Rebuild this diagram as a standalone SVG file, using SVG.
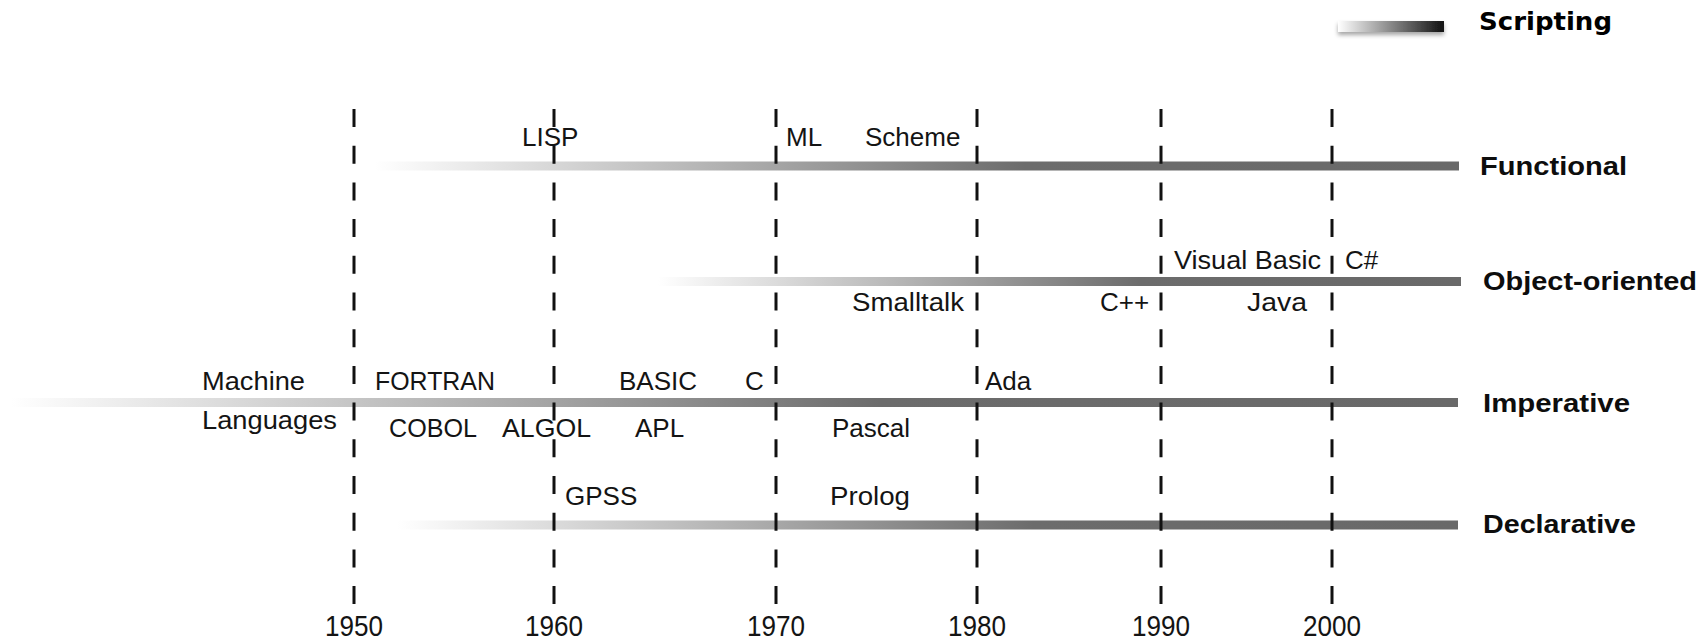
<svg xmlns="http://www.w3.org/2000/svg" width="1706" height="643" viewBox="0 0 1706 643">
  <defs>
    <linearGradient id="barGrad" x1="0" y1="0" x2="1" y2="0">
      <stop offset="0" stop-color="#ffffff"/>
      <stop offset="0.27" stop-color="#bdbdbd"/>
      <stop offset="0.6" stop-color="#6c6c6c"/>
      <stop offset="1" stop-color="#696969"/>
    </linearGradient>
    <linearGradient id="legendGrad" x1="0" y1="0" x2="1" y2="0">
      <stop offset="0" stop-color="#ffffff"/>
      <stop offset="1" stop-color="#111111"/>
    </linearGradient>
    <filter id="shadow" x="-10%" y="-50%" width="120%" height="250%">
      <feDropShadow dx="0" dy="3" stdDeviation="2" flood-color="#000" flood-opacity="0.35"/>
    </filter>
  </defs>
  <style>
    .bar { fill: url(#barGrad); }
    .lbl { font-family: "Liberation Sans", Arial, sans-serif; font-size: 26px; fill: #141414; }
    .cat { font-family: "Liberation Sans", Arial, sans-serif; font-size: 26px; font-weight: bold; fill: #0d0d0d; }
    .year { font-family: "Liberation Sans", Arial, sans-serif; font-size: 30px; fill: #141414; text-anchor: middle; }
    .grid { stroke: #111; stroke-width: 3; stroke-dasharray: 18 18.7; fill: none; }
    .legend { font-family: "DejaVu Sans", Verdana, sans-serif; font-size: 24px; font-weight: bold; fill: #000; }
  </style>
  <rect width="1706" height="643" fill="#ffffff"/>

  <g id="legend">
    <rect x="1338" y="21" width="106" height="11" fill="url(#legendGrad)" filter="url(#shadow)"/>
    <text class="legend" x="1479" y="30" textLength="133" lengthAdjust="spacingAndGlyphs">Scripting</text>
  </g>

  <g id="functional">
    <rect class="bar" x="375" y="161.5" width="1084" height="9"/>
    <text class="cat" x="1480" y="175" textLength="147" lengthAdjust="spacingAndGlyphs">Functional</text>
    <text class="lbl" x="522" y="146">LISP</text>
    <text class="lbl" x="786" y="146">ML</text>
    <text class="lbl" x="865" y="146">Scheme</text>
  </g>

  <g id="object-oriented">
    <rect class="bar" x="658" y="277" width="803" height="9"/>
    <text class="cat" x="1483" y="290" textLength="214" lengthAdjust="spacingAndGlyphs">Object-oriented</text>
    <text class="lbl" x="1174" y="269" textLength="147" lengthAdjust="spacingAndGlyphs">Visual Basic</text>
    <text class="lbl" x="1345" y="269">C#</text>
    <text class="lbl" x="852" y="311" textLength="112" lengthAdjust="spacingAndGlyphs">Smalltalk</text>
    <text class="lbl" x="1100" y="311">C++</text>
    <text class="lbl" x="1247" y="311" textLength="60" lengthAdjust="spacingAndGlyphs">Java</text>
  </g>

  <g id="imperative">
    <rect class="bar" x="11" y="398" width="1447" height="9"/>
    <text class="cat" x="1483" y="412" textLength="147" lengthAdjust="spacingAndGlyphs">Imperative</text>
    <text class="lbl" x="202" y="390" textLength="103" lengthAdjust="spacingAndGlyphs">Machine</text>
    <text class="lbl" x="375" y="390" textLength="120" lengthAdjust="spacingAndGlyphs">FORTRAN</text>
    <text class="lbl" x="619" y="390">BASIC</text>
    <text class="lbl" x="745" y="390">C</text>
    <text class="lbl" x="985" y="390">Ada</text>
    <text class="lbl" x="202" y="429" textLength="135" lengthAdjust="spacingAndGlyphs">Languages</text>
    <text class="lbl" x="389" y="437" textLength="88" lengthAdjust="spacingAndGlyphs">COBOL</text>
    <text class="lbl" x="502" y="437" textLength="89" lengthAdjust="spacingAndGlyphs">ALGOL</text>
    <text class="lbl" x="635" y="437">APL</text>
    <text class="lbl" x="832" y="437">Pascal</text>
  </g>

  <g id="declarative">
    <rect class="bar" x="397" y="520.5" width="1061" height="9"/>
    <text class="cat" x="1483" y="533" textLength="153" lengthAdjust="spacingAndGlyphs">Declarative</text>
    <text class="lbl" x="565" y="505">GPSS</text>
    <text class="lbl" x="830" y="505" textLength="80" lengthAdjust="spacingAndGlyphs">Prolog</text>
  </g>

  <g id="connectors">
    <line class="grid" x1="354" y1="109" x2="354" y2="604"/>
    <line class="grid" x1="554" y1="109" x2="554" y2="604"/>
    <line class="grid" x1="776" y1="109" x2="776" y2="604"/>
    <line class="grid" x1="977" y1="109" x2="977" y2="604"/>
    <line class="grid" x1="1161" y1="109" x2="1161" y2="604"/>
    <line class="grid" x1="1332" y1="109" x2="1332" y2="604"/>
  </g>

  <g id="years">
    <text class="year" x="354" y="636" textLength="58" lengthAdjust="spacingAndGlyphs">1950</text>
    <text class="year" x="554" y="636" textLength="58" lengthAdjust="spacingAndGlyphs">1960</text>
    <text class="year" x="776" y="636" textLength="58" lengthAdjust="spacingAndGlyphs">1970</text>
    <text class="year" x="977" y="636" textLength="58" lengthAdjust="spacingAndGlyphs">1980</text>
    <text class="year" x="1161" y="636" textLength="58" lengthAdjust="spacingAndGlyphs">1990</text>
    <text class="year" x="1332" y="636" textLength="58" lengthAdjust="spacingAndGlyphs">2000</text>
  </g>
</svg>
